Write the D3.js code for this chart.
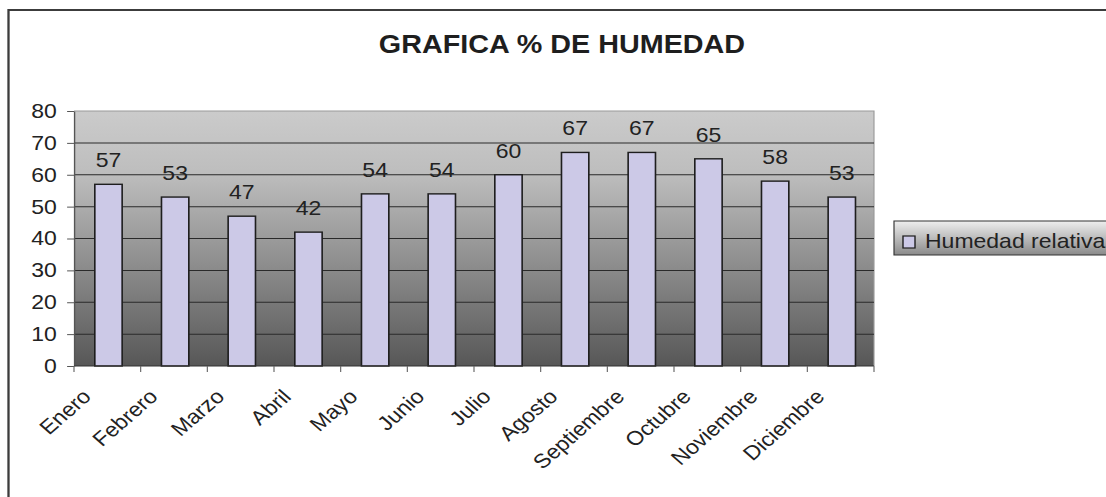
<!DOCTYPE html>
<html>
<head>
<meta charset="utf-8">
<script src="https://cdn.jsdelivr.net/npm/d3@7"></script>
<style>
  html, body { margin: 0; padding: 0; background: #fff; }
  svg { display: block; font-family: "Liberation Sans", Arial, sans-serif; }
</style>
</head>
<body>
<svg id="chart"></svg>
<script>
// Monthly relative humidity (%)
const months = ["Enero", "Febrero", "Marzo", "Abril", "Mayo", "Junio",
                "Julio", "Agosto", "Septiembre", "Octubre", "Noviembre", "Diciembre"];
const humidity = [57, 53, 47, 42, 54, 54, 60, 67, 67, 65, 58, 53];
const yTicks = [0, 10, 20, 30, 40, 50, 60, 70, 80];
const seriesName = "Humedad relativa";
const chartTitle = "GRAFICA % DE HUMEDAD";

const W = 1106, H = 497;
const stretch = 1.15;             // the drawing is widened horizontally
const VW = W / stretch;

const svg = d3.select("#chart")
  .attr("width", W).attr("height", H)
  .attr("viewBox", `0 0 ${VW} ${H}`)
  .attr("preserveAspectRatio", "none");

const defs = svg.append("defs");
const plotGrad = defs.append("linearGradient").attr("id", "plotGrad")
  .attr("x1", 0).attr("y1", 0).attr("x2", 0).attr("y2", 1);
plotGrad.append("stop").attr("offset", "0%").attr("stop-color", "#cbcbcb");
plotGrad.append("stop").attr("offset", "25%").attr("stop-color", "#bdbdbd");
plotGrad.append("stop").attr("offset", "100%").attr("stop-color", "#575757");

const legGrad = defs.append("linearGradient").attr("id", "legGrad")
  .attr("x1", 0).attr("y1", 0).attr("x2", 0).attr("y2", 1);
legGrad.append("stop").attr("offset", "0%").attr("stop-color", "#eeeeee");
legGrad.append("stop").attr("offset", "100%").attr("stop-color", "#8a8a8a");

// outer frame (left and top edges)
svg.append("path")
  .attr("d", `M${8.5 / stretch},${H} V10 H${VW + 5}`)
  .attr("fill", "none").attr("stroke", "#3c3c3c").attr("stroke-width", 2);

// title
svg.append("text")
  .attr("x", 562 / stretch).attr("y", 53)
  .attr("text-anchor", "middle")
  .attr("font-size", 25).attr("font-weight", "bold").attr("fill", "#1e1e1e")
  .text(chartTitle);

const plot = { left: 74 / stretch, right: 874 / stretch, top: 111, bottom: 366 };

const x = d3.scaleBand().domain(months).range([plot.left, plot.right]).padding(0);
const y = d3.scaleLinear().domain([0, 80]).range([plot.bottom, plot.top]);

// plot area background
svg.append("rect")
  .attr("x", plot.left).attr("y", plot.top)
  .attr("width", plot.right - plot.left).attr("height", plot.bottom - plot.top)
  .attr("fill", "url(#plotGrad)");

// top and right edges of the plot area
svg.append("path")
  .attr("d", `M${plot.left},${plot.top} H${plot.right} V${plot.bottom}`)
  .attr("fill", "none").attr("stroke", "#9a9a9a").attr("stroke-width", 1);

// horizontal gridlines
svg.append("g").selectAll("line")
  .data(yTicks.filter(t => t > 0 && t < 80))
  .join("line")
  .attr("x1", plot.left).attr("x2", plot.right)
  .attr("y1", d => y(d)).attr("y2", d => y(d))
  .attr("stroke", "#2a2a2a").attr("stroke-width", 1);

// bars
const barW = x.bandwidth() * 0.41;
svg.append("g").selectAll("rect")
  .data(humidity)
  .join("rect")
  .attr("x", (d, i) => x(months[i]) + (x.bandwidth() - barW) / 2 + 1)
  .attr("y", d => y(d))
  .attr("width", barW)
  .attr("height", d => y(0) - y(d))
  .attr("fill", "#ccc9e7")
  .attr("stroke", "#1e1e1e").attr("stroke-width", 1.4);

// value labels
svg.append("g").selectAll("text")
  .data(humidity)
  .join("text")
  .attr("x", (d, i) => x(months[i]) + x.bandwidth() / 2 + 1)
  .attr("y", d => y(d) - 17)
  .attr("text-anchor", "middle")
  .attr("font-size", 20).attr("fill", "#222")
  .text(d => d);

// y axis
const yAxis = svg.append("g")
  .attr("transform", `translate(${plot.left},0)`)
  .call(d3.axisLeft(y).tickValues(yTicks).tickSize(6).tickPadding(9).tickSizeOuter(0));
yAxis.select(".domain").attr("stroke", "#555").attr("stroke-width", 1.2);
yAxis.selectAll(".tick line").attr("stroke", "#555");
yAxis.selectAll(".tick text")
  .attr("font-size", 20).attr("fill", "#222")
  .attr("font-family", "'Liberation Sans', Arial, sans-serif");

// x axis: ticks at category boundaries
const boundaries = d3.range(months.length + 1).map(i => plot.left + i * x.step());
const xAxisG = svg.append("g");
xAxisG.append("line")
  .attr("x1", plot.left).attr("x2", plot.right)
  .attr("y1", plot.bottom).attr("y2", plot.bottom)
  .attr("stroke", "#333").attr("stroke-width", 1.2);
xAxisG.selectAll("line.tk")
  .data(boundaries)
  .join("line").attr("class", "tk")
  .attr("x1", d => d).attr("x2", d => d)
  .attr("y1", plot.bottom).attr("y2", plot.bottom + 6)
  .attr("stroke", "#666");

// rotated month labels
xAxisG.selectAll("text")
  .data(months)
  .join("text")
  .attr("transform", d => `translate(${x(d) + x.bandwidth() / 2 - 13},${plot.bottom + 32}) rotate(-45)`)
  .attr("text-anchor", "end")
  .attr("font-size", 20).attr("fill", "#222")
  .text(d => d);

// legend
const leg = svg.append("g");
leg.append("rect")
  .attr("x", 894 / stretch).attr("y", 221)
  .attr("width", VW - 894 / stretch + 10).attr("height", 34)
  .attr("fill", "url(#legGrad)").attr("stroke", "#333").attr("stroke-width", 1);
leg.append("rect")
  .attr("x", 903 / stretch).attr("y", 236)
  .attr("width", 12 / stretch).attr("height", 12)
  .attr("fill", "#ccc9e7").attr("stroke", "#1e1e1e").attr("stroke-width", 1.2);
leg.append("text")
  .attr("x", 925 / stretch).attr("y", 248)
  .attr("font-size", 20).attr("fill", "#222")
  .text(seriesName);
</script>
</body>
</html>
